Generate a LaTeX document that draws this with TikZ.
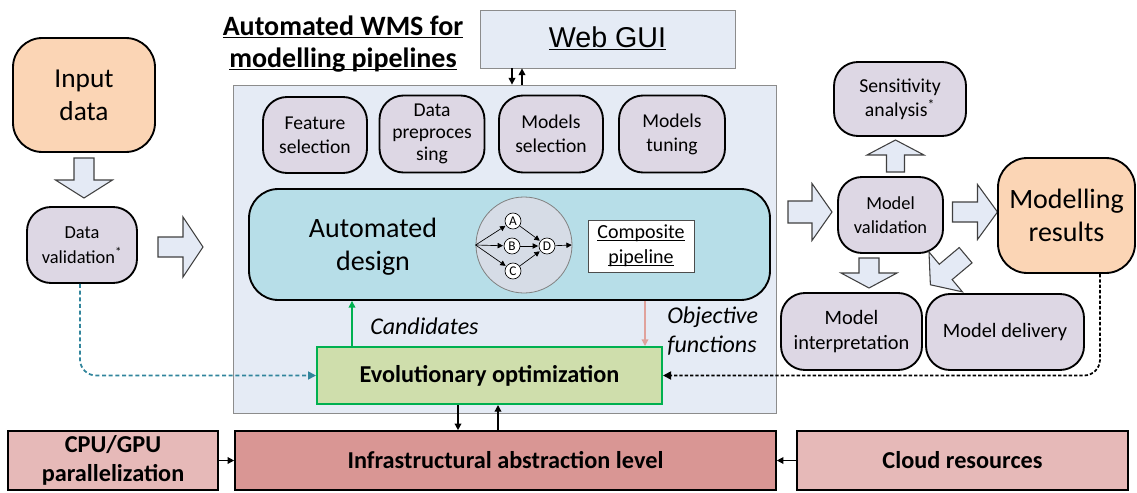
\documentclass[tikz,border=0pt]{standalone}
\usepackage{fontspec}
\setmainfont{Carlito}
\newfontfamily\arialf{Liberation Sans}
\newcommand\myul[1]{\underline{\smash{#1}\vphantom{A}}}
\usetikzlibrary{arrows.meta,calc}
\definecolor{peach}{HTML}{FBD5B5}
\definecolor{lav}{HTML}{DDD7E4}
\definecolor{contblue}{HTML}{E5EBF5}
\definecolor{arrowfill}{HTML}{E4EAF5}
\definecolor{designc}{HTML}{B7DEE8}
\definecolor{evog}{HTML}{CFDEAC}
\definecolor{greenb}{HTML}{00B050}
\definecolor{infrac}{HTML}{D99694}
\definecolor{cpuc}{HTML}{E6B9B8}
\definecolor{pinkarrow}{HTML}{E0A29C}
\definecolor{tealc}{HTML}{31859C}
\definecolor{circfill}{HTML}{D6DCE6}
% block arrow: x, y, angle, length, shaft width, head width, head length (pixel units)
\newcommand\blockarr[7]{%
  \begin{scope}[shift={(#1,#2)},rotate=#3]
    \draw[barrowst] ({-#4/2},{-#5/2}) -- ({#4/2-#7},{-#5/2}) -- ({#4/2-#7},{-#6/2}) -- ({#4/2},0)
      -- ({#4/2-#7},{#6/2}) -- ({#4/2-#7},{#5/2}) -- ({-#4/2},{#5/2}) -- cycle;
  \end{scope}}
\begin{document}
\begin{tikzpicture}[x=0.75pt,y=-0.75pt,
  rbox/.style={draw=black, line width=1.4pt, rounded corners=18pt, fill=lav, align=center, inner sep=0pt, font=\fontsize{14.7}{18}\selectfont},
  sqbox/.style={draw=black, line width=1.2pt, align=center, inner sep=0pt, font=\bfseries\fontsize{18.2}{21}\selectfont},
  barrowst/.style={draw=black!75, fill=arrowfill, line width=0.8pt, line join=miter},
  conn/.style={-{Triangle[length=5pt,width=5pt]}, line width=1pt},
  gnode/.style={circle, draw=black, fill=white, line width=0.5pt, minimum size=12pt, inner sep=0pt, font=\fontsize{10}{10}\selectfont},
  garrow/.style={-{Triangle[length=4pt,width=4pt]}, line width=0.5pt, shorten >=0.5pt},
  lbl/.style={font=\itshape\fontsize{18}{22}\selectfont, inner sep=0pt}
]
\useasboundingbox (0,0) rectangle (1137,492);

% helper coordinates for connector x positions
\coordinate (x80) at (80,0);
\coordinate (x352) at (352,0);
\coordinate (x458) at (458,0);
\coordinate (x498) at (498,0);
\coordinate (x512) at (512,0);
\coordinate (x522) at (522,0);
\coordinate (x645) at (645,0);
\coordinate (x1100) at (1100,0);

% container
\node[draw=black!45, fill=contblue, line width=0.6pt, minimum width=407.25pt, minimum height=246pt, inner sep=0pt] (cont) at (504.5,249) {};

% title and web gui
\node[font=\bfseries\fontsize{21}{24}\selectfont, align=center] (title) at (343,44) {\myul{Automated WMS for}\\\myul{modelling pipelines}};
\node[draw=black!45, fill=contblue, line width=0.6pt, minimum width=191.25pt, minimum height=43.5pt, inner sep=0pt, font=\arialf\fontsize{21.5}{24}\selectfont] (web) at (607.5,39) {\myul{Web GUI}};

% left column
\node[rbox, fill=peach, rounded corners=22pt, minimum width=106.5pt, minimum height=85.5pt, font=\fontsize{20.5}{25}\selectfont] (input) at (84,95) {Input\\data};
\blockarr{84}{178}{-90}{40}{20}{57}{18}
\node[rbox, minimum width=82.5pt, minimum height=57pt, font=\fontsize{13.8}{19}\selectfont] (dval) at (82,245) {Data\\validation\textsuperscript{*}};
\blockarr{180.5}{247}{0}{45}{20}{60}{20}

% method boxes
\node[rbox, minimum width=78pt, minimum height=57pt] (feat) at (315,135) {Feature\\selection};
\node[rbox, minimum width=78.75pt, minimum height=57.75pt, font=\fontsize{14.7}{16.5}\selectfont] (prep) at (432,134) {Data\\preproces\\sing};
\node[rbox, minimum width=78pt, minimum height=57.75pt] (msel) at (551,134) {Models\\selection};
\node[rbox, minimum width=79.5pt, minimum height=57.75pt] (mtun) at (672,134) {Models\\tuning};

% automated design
\node[rbox, fill=designc, rounded corners=22pt, minimum width=390.75pt, minimum height=83.25pt] (design) at (509.5,244.5) {};
\node[font=\fontsize{21}{25}\selectfont, align=center, inner sep=0pt] (dtext) at (373,247) {Automated\\design};
\node[circle, draw=black!50, fill=circfill, line width=0.6pt, minimum size=72pt, inner sep=0pt] (circ) at (524,245) {};
\node[gnode] (A) at (513,221) {A};
\node[gnode] (B) at (512,246) {B};
\node[gnode] (C) at (513,271) {C};
\node[gnode] (D) at (547,246) {D};
\draw[garrow] (circ.west) -- (A);
\draw[garrow] (circ.west) -- (B);
\draw[garrow] (circ.west) -- (C);
\draw[garrow] (A) -- (D);
\draw[garrow] (B) -- (D);
\draw[garrow] (C) -- (D);
\draw[garrow] (D) -- (circ.east);
\node[draw=black!70, fill=white, line width=0.7pt, minimum width=79.5pt, minimum height=39pt, inner sep=0pt, align=center, font=\fontsize{15}{19}\selectfont] (comp) at (641,246) {\myul{Composite}\\\myul{pipeline}};

% evolutionary optimization
\node[sqbox, draw=greenb, fill=evog, line width=1.5pt, minimum width=258.75pt, minimum height=42.75pt] (evo) at (489.5,375.5) {Evolutionary optimization};
\draw[conn, greenb] (evo.north -| x352) -- (design.south -| x352);
\draw[conn, pinkarrow] (design.south -| x645) -- (evo.north -| x645);
\node[lbl, anchor=west] (cand) at (370,326) {Candidates};
\node[lbl, anchor=west, align=left] (obj) at (667,331) {Objective\\functions};

% web gui connectors
\draw[conn] (web.south -| x512) -- (cont.north -| x512);
\draw[conn] (cont.north -| x522) -- (web.south -| x522);

% bottom row
\node[sqbox, fill=infrac, minimum width=405.75pt, minimum height=44.25pt] (infra) at (505.5,460.5) {Infrastructural abstraction level};
\node[sqbox, fill=cpuc, minimum width=157.5pt, minimum height=44.25pt, font=\bfseries\fontsize{18.2}{22}\selectfont] (cpu) at (113,460.5) {CPU/GPU\\parallelization};
\node[sqbox, fill=cpuc, minimum width=248.25pt, minimum height=44.25pt] (cloud) at (962.5,460.5) {Cloud resources};
\draw[conn] (cpu.east) -- (infra.west);
\draw[conn] (cloud.west) -- (infra.east);
\draw[conn] (evo.south -| x458) -- (infra.north -| x458);
\draw[conn] (infra.north -| x498) -- (evo.south -| x498);

% right side
\blockarr{810}{212}{0}{44}{22}{57}{20}
\node[rbox, minimum width=78.75pt, minimum height=57pt, font=\fontsize{13.8}{18}\selectfont] (mval) at (890.5,215) {Model\\validation};
\node[rbox, minimum width=99pt, minimum height=55.5pt, font=\fontsize{14.8}{18}\selectfont] (sens) at (900,99) {Sensitivity\\analysis\textsuperscript{*}};
\blockarr{895.5}{156}{90}{32}{18}{57}{15}
\blockarr{975}{212}{0}{45}{20}{55}{20}
\node[rbox, fill=peach, rounded corners=22pt, minimum width=102.75pt, minimum height=86.25pt, font=\fontsize{21}{25}\selectfont] (results) at (1066.5,215.5) {Modelling\\results};
\blockarr{869}{273}{-90}{30}{20}{56}{15}
\blockarr{948}{270}{220}{46}{20}{52}{20}
\node[rbox, minimum width=105.75pt, minimum height=57.75pt, font=\fontsize{15.3}{19}\selectfont] (interp) at (851.5,331.5) {Model\\interpretation};
\node[rbox, minimum width=118.5pt, minimum height=57pt, font=\fontsize{15.3}{19}\selectfont] (deliv) at (1005,332) {Model delivery};

% dotted feedback lines
\draw[tealc, line width=1.3pt, dash pattern=on 3pt off 2pt, rounded corners=12pt, -{Triangle[length=6pt,width=6pt]}] (dval.south -| x80) |- (evo.west);
\draw[black, line width=1.3pt, dash pattern=on 2.5pt off 1.5pt, rounded corners=12pt, -{Triangle[length=6pt,width=6pt]}] (results.south -| x1100) |- (evo.east);
\end{tikzpicture}
\end{document}
